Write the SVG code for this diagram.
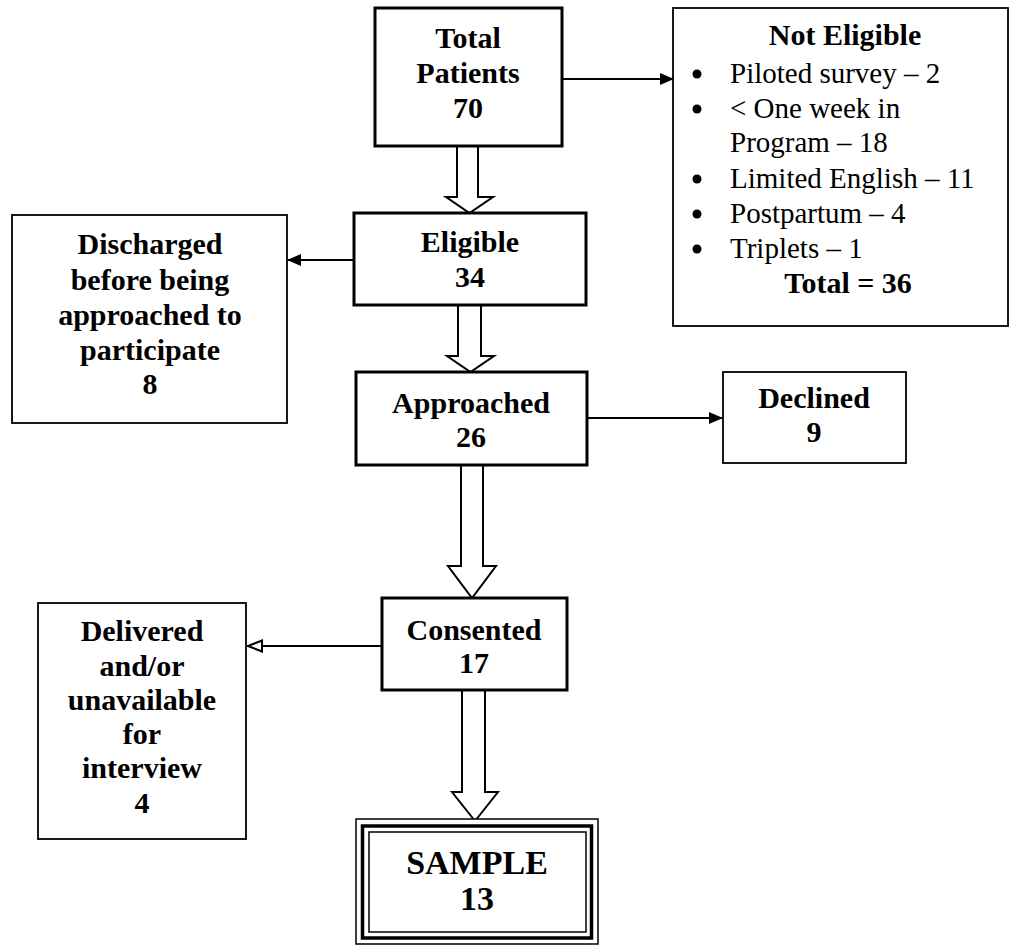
<svg xmlns="http://www.w3.org/2000/svg" width="1010" height="946" viewBox="0 0 1010 946">
  <style>
    .thick { fill: #fff; stroke: #000; stroke-width: 3; }
    .thin { fill: #fff; stroke: #000; stroke-width: 1.8; }
    .b { font-family: "Liberation Serif", "Times New Roman", serif; font-weight: bold; font-size: 30px; fill: #000; text-anchor: middle; }
    .r { font-family: "Liberation Serif", "Times New Roman", serif; font-size: 29px; fill: #000; }
    .big { font-family: "Liberation Serif", "Times New Roman", serif; font-weight: bold; font-size: 34px; fill: #000; text-anchor: middle; }
    .line { fill: none; stroke: #000; stroke-width: 2; }
    .hollow { fill: #fff; stroke: #000; stroke-width: 2; stroke-linejoin: miter; }
  </style>
  <defs>
    <marker id="ah" markerWidth="14" markerHeight="12" refX="13" refY="6" orient="auto" markerUnits="userSpaceOnUse">
      <path d="M0,0 L14,6 L0,12 Z" fill="#000"/>
    </marker>
    <marker id="ahOpen" markerWidth="16" markerHeight="14" refX="15" refY="7" orient="auto" markerUnits="userSpaceOnUse">
      <path d="M1,1.5 L15,7 L1,12.5 Z" fill="#fff" stroke="#000" stroke-width="2"/>
    </marker>
  </defs>

  <g id="connectors">
    <line class="line" x1="562" y1="79" x2="673" y2="79" marker-end="url(#ah)"/>
    <line class="line" x1="354" y1="260" x2="288" y2="260" marker-end="url(#ah)"/>
    <line class="line" x1="587" y1="418" x2="722" y2="418" marker-end="url(#ah)"/>
    <line class="line" x1="382" y1="646" x2="248" y2="646" marker-end="url(#ahOpen)"/>
    <path class="hollow" d="M457,147 L457,197 L446,197 L469.5,213 L493,197 L478,197 L478,147"/>
    <path class="hollow" d="M458,305 L458,356 L447,356 L470.5,372 L494,356 L481,356 L481,305"/>
    <path class="hollow" d="M461,465 L461,566 L448,566 L472,598 L496,566 L483,566 L483,465"/>
    <path class="hollow" d="M462,690 L462,792 L452,792 L475,821 L498,792 L485,792 L485,690"/>
  </g>

  <g id="node-total">
    <rect class="thick" x="375" y="8" width="187" height="138"/>
    <text class="b" x="468" y="48">Total</text>
    <text class="b" x="468" y="83">Patients</text>
    <text class="b" x="468" y="118">70</text>
  </g>

  <g id="node-not-eligible">
    <rect class="thin" x="673" y="8" width="335" height="318"/>
    <text class="b" x="845" y="45">Not Eligible</text>
    <circle cx="697" cy="74" r="4.5"/>
    <text class="r" x="730" y="83">Piloted survey – 2</text>
    <circle cx="697" cy="109" r="4.5"/>
    <text class="r" x="730" y="118">&lt; One week in</text>
    <text class="r" x="730" y="152">Program – 18</text>
    <circle cx="697" cy="179" r="4.5"/>
    <text class="r" x="730" y="188">Limited English – 11</text>
    <circle cx="697" cy="214" r="4.5"/>
    <text class="r" x="730" y="223">Postpartum – 4</text>
    <circle cx="697" cy="249" r="4.5"/>
    <text class="r" x="730" y="258">Triplets – 1</text>
    <text class="b" x="848" y="293">Total = 36</text>
  </g>

  <g id="node-eligible">
    <rect class="thick" x="354" y="213" width="232" height="92"/>
    <text class="b" x="470" y="252">Eligible</text>
    <text class="b" x="470" y="287">34</text>
  </g>

  <g id="node-discharged">
    <rect class="thin" x="12" y="215" width="275" height="208"/>
    <text class="b" x="150" y="254">Discharged</text>
    <text class="b" x="150" y="290">before being</text>
    <text class="b" x="150" y="325">approached to</text>
    <text class="b" x="150" y="360">participate</text>
    <text class="b" x="150" y="394">8</text>
  </g>

  <g id="node-approached">
    <rect class="thick" x="356" y="372" width="231" height="93"/>
    <text class="b" x="471" y="413">Approached</text>
    <text class="b" x="471" y="447">26</text>
  </g>

  <g id="node-declined">
    <rect class="thin" x="723" y="372" width="183" height="91"/>
    <text class="b" x="814" y="408">Declined</text>
    <text class="b" x="814" y="442">9</text>
  </g>

  <g id="node-consented">
    <rect class="thick" x="382" y="598" width="185" height="92"/>
    <text class="b" x="474" y="640">Consented</text>
    <text class="b" x="474" y="673">17</text>
  </g>

  <g id="node-delivered">
    <rect class="thin" x="38" y="603" width="208" height="236"/>
    <text class="b" x="142" y="641">Delivered</text>
    <text class="b" x="142" y="676">and/or</text>
    <text class="b" x="142" y="710">unavailable</text>
    <text class="b" x="142" y="744">for</text>
    <text class="b" x="142" y="778">interview</text>
    <text class="b" x="142" y="813">4</text>
  </g>

  <g id="node-sample">
    <rect fill="#fff" stroke="#000" stroke-width="1.5" x="356" y="819" width="242" height="125"/>
    <rect fill="none" stroke="#000" stroke-width="3.5" x="362.5" y="826" width="229" height="112"/>
    <rect fill="none" stroke="#000" stroke-width="1.5" x="369" y="832" width="217" height="100"/>
    <text class="big" x="477" y="874">SAMPLE</text>
    <text class="big" x="477" y="910">13</text>
  </g>
</svg>
